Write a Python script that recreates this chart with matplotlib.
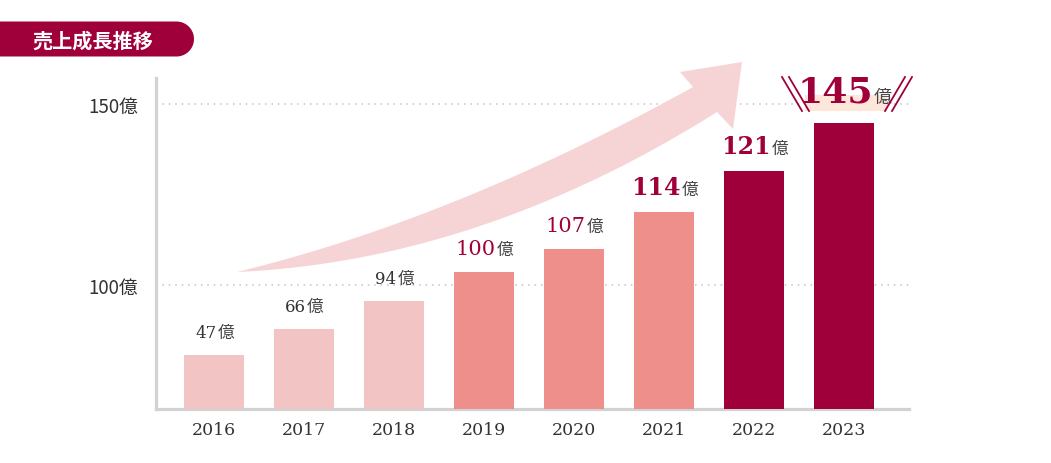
import matplotlib
matplotlib.use('Agg')
import matplotlib.pyplot as plt
from matplotlib.patches import Polygon, Rectangle
from matplotlib.transforms import Affine2D, offset_copy
import numpy as np

# ------------------------------- DATA ------------------------------------- #
years = ['2016', '2017', '2018', '2019', '2020', '2021', '2022', '2023']
sales = [47, 66, 94, 100, 107, 114, 121, 145]  # 億円, printed labels
# drawn bar heights on the chart's (decorative, non-linear) axis
bar_heights = [80.7, 87.9, 95.6, 103.6, 109.9, 120.2, 131.5, 144.8]
bar_colors = ['#f2c4c4', '#f2c4c4', '#f2c4c4',
              '#ef8f8c', '#ef8f8c', '#ef8f8c',
              '#a0003a', '#a0003a']
label_colors = ['#333333', '#333333', '#333333',
                '#a0003a', '#a0003a', '#a0003a', '#a0003a', '#a0003a']
label_sizes = [12, 12, 12, 15, 15, 17, 17, 26]
label_weights = ['normal'] * 5 + ['bold'] * 3
yticks = [100, 150]
ytick_labels = ['100億', '150億']

CRIMSON = '#a0003a'
JP = ['Noto Sans CJK JP', 'DejaVu Sans']
W, H = 1051, 464

# ------------------------------- FIGURE ----------------------------------- #
fig = plt.figure(figsize=(W / 100, H / 100), dpi=100)
px = Affine2D().scale(1 / W, -1 / H).translate(0, 1) + fig.transFigure  # image pixels

# axes box in pixels: left 156, right 909, top 79, bottom 410
ax = fig.add_axes([156 / W, 1 - 410 / H, (909 - 156) / W, (410 - 79) / H])
x = np.arange(len(years))
ax.bar(x, bar_heights, width=0.667, color=bar_colors, zorder=3)
ax.set_xlim(-0.644, 7.722)
ax.set_ylim(65.75, 157.18)

for s in ['top', 'right']:
    ax.spines[s].set_visible(False)
for s in ['left', 'bottom']:
    ax.spines[s].set_color('#d2d2d2')
    ax.spines[s].set_linewidth(2.3)

ax.set_yticks(yticks)
ax.set_yticklabels(ytick_labels, family=JP, fontsize=13.5, color='#333333')
ax.set_xticks(x)
ax.set_xticklabels(years, family='DejaVu Serif', fontsize=12.5, color='#333333')
ax.tick_params(axis='y', length=0, pad=13)
ax.tick_params(axis='x', length=0, pad=9)

for yv in yticks:
    ax.axhline(yv, color='#c4c4c4', lw=1.1, ls=(0, (1, 3.2)), zorder=1,
               xmax=1.004)

# ------------------------------- ARROW ------------------------------------ #
def bezier(p0, p1, p2, n=80):
    t = np.linspace(0, 1, n)[:, None]
    return (1 - t) ** 2 * np.array(p0) + 2 * (1 - t) * t * np.array(p1) + t ** 2 * np.array(p2)

# swoosh edges in image pixels
upper = bezier((237, 273), (455, 220), (693, 88))
lower = bezier((237, 273), (480, 262), (717, 113))
head = [(680, 73), (742, 63), (733, 130)]
outline = np.vstack([upper, head, lower[::-1]])
ax.add_patch(Polygon(outline, closed=True, transform=px, facecolor='#f6d4d6',
                     edgecolor='none', zorder=2, clip_on=False))

# ------------------------------- LABELS ----------------------------------- #
# highlight behind 145億
ax.add_patch(Rectangle((805, 96), 82, 16, transform=px, facecolor='#fde7da',
                       edgecolor='none', zorder=4, clip_on=False))
for dx in (0, 7):
    fig.lines.append(plt.Line2D([782 + dx, 802 + dx], [78, 112], transform=px,
                                color=CRIMSON, lw=1.3))
    fig.lines.append(plt.Line2D([912 - dx, 892 - dx], [78, 112], transform=px,
                                color=CRIMSON, lw=1.3))

renderer = fig.canvas.get_renderer()
for i, (v, h) in enumerate(zip(sales, bar_heights)):
    t_num = ax.text(i, h, str(v), family='DejaVu Serif', fontsize=label_sizes[i],
                    fontweight=label_weights[i], color=label_colors[i],
                    ha='left', va='baseline', zorder=5, clip_on=False)
    t_oku = ax.text(i, h, '億', family=JP, fontsize=12 if i < 7 else 13,
                    color='#444444', ha='left', va='baseline', zorder=5, clip_on=False)
    wn = t_num.get_window_extent(renderer).width
    wk = t_oku.get_window_extent(renderer).width
    gap = 18 if i < 7 else 21
    t_num.set_transform(offset_copy(ax.transData, fig, x=-(wn + wk) / 2, y=gap, units='dots'))
    t_oku.set_transform(offset_copy(ax.transData, fig, x=-(wn + wk) / 2 + wn + 1, y=gap, units='dots'))

# ------------------------------- TITLE ------------------------------------ #
r = 17.5
cx, cy = 194 - r, 40
theta = np.linspace(np.pi / 2, -np.pi / 2, 30)
badge = [(0, cy - r), (cx, cy - r)] + [(cx + r * np.cos(a), cy - r * np.sin(a)) for a in theta] + [(0, cy + r)]
fig.patches.append(Polygon(badge, closed=True, transform=px, facecolor=CRIMSON,
                           edgecolor='none'))
fig.text(93 / W, 1 - 41 / H, '売上成長推移', family=JP, fontsize=14.5, fontweight='bold',
         color='white', ha='center', va='center')

fig.savefig('out.png', dpi=100)
